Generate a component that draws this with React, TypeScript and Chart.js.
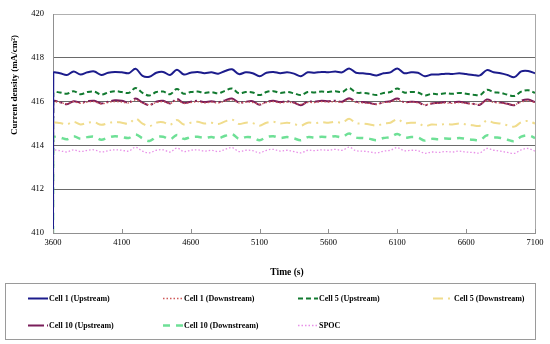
import React, { useEffect, useRef } from "react";
import { Chart, registerables } from "chart.js";

Chart.register(...registerables);

const START_TIME = 3600;
const END_TIME = 7100;
const STEP = 50;
const START_VALUE = 410;

const cell1Up = [
  417.30, 417.30, 417.22, 417.38, 417.24, 417.34, 417.38, 417.22, 417.32, 417.36,
  417.34, 417.30, 417.50, 417.18, 417.14, 417.32, 417.36, 417.22, 417.46, 417.24,
  417.32, 417.36, 417.30, 417.34, 417.28, 417.40, 417.48, 417.26, 417.34, 417.30,
  417.16, 417.32, 417.36, 417.30, 417.34, 417.28, 417.16, 417.34, 417.32, 417.36,
  417.34, 417.38, 417.34, 417.52, 417.32, 417.30, 417.26, 417.20, 417.30, 417.34,
  417.52, 417.30, 417.34, 417.32, 417.16, 417.24, 417.24, 417.28, 417.26, 417.30,
  417.26, 417.22, 417.20, 417.44, 417.34, 417.30, 417.22, 417.12, 417.38, 417.40,
  417.30,
];
const cell1Down = [
  415.95, 415.96, 415.90, 416.00, 415.92, 415.98, 416.00, 415.90, 415.96, 416.00,
  415.98, 415.94, 416.08, 415.94, 415.86, 415.96, 416.00, 415.92, 416.06, 415.92,
  415.96, 416.00, 415.94, 415.98, 415.94, 416.02, 416.08, 415.94, 415.98, 415.96,
  415.88, 415.96, 416.00, 415.94, 415.98, 415.94, 415.88, 415.96, 415.96, 416.00,
  415.98, 416.00, 415.96, 416.10, 415.96, 415.94, 415.92, 415.88, 415.96, 415.98,
  416.08, 415.96, 415.98, 415.94, 415.86, 415.92, 415.92, 415.94, 415.92, 415.96,
  415.92, 415.90, 415.88, 416.04, 415.96, 415.94, 415.90, 415.86, 415.98, 416.04,
  415.96,
];
const cell5Up = [
  416.40, 416.42, 416.36, 416.48, 416.34, 416.44, 416.46, 416.32, 416.42, 416.48,
  416.44, 416.40, 416.62, 416.40, 416.28, 416.44, 416.46, 416.34, 416.58, 416.36,
  416.44, 416.46, 416.40, 416.44, 416.38, 416.50, 416.60, 416.38, 416.44, 416.42,
  416.30, 416.44, 416.48, 416.40, 416.44, 416.38, 416.30, 416.44, 416.42, 416.46,
  416.44, 416.48, 416.44, 416.62, 416.42, 416.40, 416.36, 416.30, 416.40, 416.44,
  416.60, 416.42, 416.44, 416.42, 416.28, 416.36, 416.34, 416.38, 416.36, 416.40,
  416.36, 416.32, 416.30, 416.54, 416.44, 416.40, 416.32, 416.26, 416.46, 416.52,
  416.40,
];
const cell5Down = [
  415.00, 415.02, 414.96, 415.08, 414.96, 415.04, 415.06, 414.94, 415.02, 415.08,
  415.04, 415.00, 415.22, 415.00, 414.88, 415.04, 415.06, 414.94, 415.16, 414.96,
  415.04, 415.08, 415.00, 415.04, 414.98, 415.10, 415.18, 414.98, 415.04, 415.02,
  414.90, 415.04, 415.08, 415.00, 415.04, 414.98, 414.90, 415.04, 415.02, 415.06,
  415.04, 415.08, 415.04, 415.22, 415.02, 415.00, 414.96, 414.90, 415.00, 415.04,
  415.20, 415.02, 415.04, 415.02, 414.88, 414.96, 414.94, 414.98, 414.96, 415.00,
  414.96, 414.92, 414.90, 415.14, 415.04, 415.00, 414.92, 414.86, 415.06, 415.12,
  415.00,
];
const cell10Up = [
  416.00, 415.98, 415.88, 416.02, 415.96, 416.02, 416.04, 415.92, 416.00, 416.06,
  416.04, 415.96, 416.14, 415.96, 415.84, 416.00, 416.04, 415.92, 416.12, 415.94,
  416.00, 416.04, 415.98, 416.02, 415.98, 416.06, 416.14, 415.96, 416.00, 416.02,
  415.86, 416.00, 416.04, 415.98, 416.02, 415.96, 415.84, 416.00, 416.00, 416.04,
  416.02, 416.04, 416.00, 416.16, 416.00, 415.98, 415.94, 415.88, 415.98, 416.02,
  416.14, 415.98, 416.00, 415.98, 415.84, 415.92, 415.94, 415.98, 415.96, 416.00,
  415.94, 415.90, 415.86, 416.10, 416.00, 415.96, 415.90, 415.84, 416.04, 416.10,
  415.98,
];
const cell10Down = [
  414.34, 414.36, 414.28, 414.42, 414.30, 414.38, 414.40, 414.26, 414.36, 414.42,
  414.38, 414.34, 414.50, 414.32, 414.20, 414.38, 414.40, 414.28, 414.48, 414.30,
  414.38, 414.40, 414.34, 414.38, 414.32, 414.44, 414.52, 414.30, 414.38, 414.36,
  414.24, 414.38, 414.42, 414.34, 414.38, 414.32, 414.24, 414.38, 414.36, 414.40,
  414.38, 414.42, 414.38, 414.54, 414.36, 414.34, 414.30, 414.24, 414.34, 414.38,
  414.52, 414.36, 414.38, 414.36, 414.22, 414.30, 414.28, 414.32, 414.30, 414.34,
  414.30, 414.26, 414.24, 414.46, 414.38, 414.34, 414.26, 414.20, 414.40, 414.46,
  414.34,
];
const spoc = [
  413.74, 413.76, 413.70, 413.80, 413.72, 413.78, 413.80, 413.70, 413.76, 413.80,
  413.78, 413.74, 413.92, 413.74, 413.66, 413.78, 413.80, 413.70, 413.88, 413.72,
  413.78, 413.80, 413.74, 413.78, 413.72, 413.82, 413.90, 413.72, 413.78, 413.76,
  413.66, 413.78, 413.82, 413.74, 413.78, 413.72, 413.66, 413.78, 413.76, 413.80,
  413.78, 413.82, 413.78, 413.92, 413.76, 413.74, 413.70, 413.66, 413.74, 413.78,
  413.90, 413.76, 413.78, 413.76, 413.64, 413.70, 413.68, 413.72, 413.70, 413.74,
  413.70, 413.68, 413.66, 413.86, 413.78, 413.74, 413.68, 413.64, 413.80, 413.86,
  413.74,
];

const seriesNames = [
  "Cell 1 (Upstream)",
  "Cell 1 (Downstream)",
  "Cell 5 (Upstream)",
  "Cell 5 (Downstream)",
  "Cell 10 (Upstream)",
  "Cell 10 (Downstream)",
  "SPOC",
];
const seriesValues = [cell1Up, cell1Down, cell5Up, cell5Down, cell10Up, cell10Down, spoc];
const seriesStyles = [
  { color: "#1c1c8c", width: 2, dash: [] as number[] },
  { color: "#d05a5a", width: 1.3, dash: [1.5, 2] },
  { color: "#127a30", width: 2, dash: [5, 3] },
  { color: "#f0dc8c", width: 2, dash: [10, 5, 2, 5] },
  { color: "#7a1e5a", width: 2, dash: [16, 3, 2, 3] },
  { color: "#6ee096", width: 2.5, dash: [7, 6] },
  { color: "#e890e8", width: 1.3, dash: [1.5, 2] },
];

const X_TITLE = "Time (s)";
const Y_TITLE = "Current density (mA/cm²)";
const SERIF = "'Liberation Serif', 'Times New Roman', serif";

function toPoints(values: number[]) {
  const pts = [{ x: START_TIME, y: START_VALUE }];
  values.forEach((v, i) => {
    pts.push({ x: i === 0 ? START_TIME + 2 : START_TIME + STEP * i, y: v });
  });
  return pts;
}

const extrasPlugin = {
  id: "extras",
  afterDraw(chart: any) {
    const { ctx, chartArea, scales } = chart;
    ctx.save();
    // right border
    ctx.strokeStyle = "#a8a8a8";
    ctx.lineWidth = 1;
    ctx.beginPath();
    ctx.moveTo(Math.round(chartArea.right) + 0.5, chartArea.top);
    ctx.lineTo(Math.round(chartArea.right) + 0.5, chartArea.bottom);
    ctx.stroke();
    // inside x ticks
    ctx.strokeStyle = "#909090";
    scales.x.ticks.forEach((t: any) => {
      const x = Math.round(scales.x.getPixelForValue(t.value)) + 0.5;
      ctx.beginPath();
      ctx.moveTo(x, chartArea.bottom);
      ctx.lineTo(x, chartArea.bottom - 4);
      ctx.stroke();
    });
    // axis titles
    ctx.fillStyle = "#000";
    ctx.textAlign = "center";
    ctx.textBaseline = "middle";
    ctx.font = `bold 9.5px ${SERIF}`;
    ctx.fillText(X_TITLE, 287, 273);
    ctx.save();
    ctx.translate(15, 85);
    ctx.rotate(-Math.PI / 2);
    ctx.font = `bold 9px ${SERIF}`;
    ctx.fillText(Y_TITLE, 0, 0);
    ctx.restore();
    // legend box
    ctx.strokeStyle = "#9a9a9a";
    ctx.lineWidth = 1;
    ctx.strokeRect(5.5, 283.5, 530, 56);
    ctx.font = `bold 8px ${SERIF}`;
    ctx.textBaseline = "middle";
    ctx.textAlign = "left";
    chart.data.datasets.forEach((ds: any, i: number) => {
      const col = i % 4;
      const row = Math.floor(i / 4);
      const x0 = 28 + col * 135;
      const y = row === 0 ? 298.5 : 325.5;
      ctx.save();
      ctx.strokeStyle = ds.borderColor;
      ctx.lineWidth = ds.borderWidth;
      ctx.setLineDash(ds.borderDash || []);
      ctx.beginPath();
      ctx.moveTo(x0, y);
      ctx.lineTo(x0 + 20, y);
      ctx.stroke();
      ctx.restore();
      ctx.fillStyle = "#000";
      ctx.fillText(ds.label, x0 + 21, y);
    });
    ctx.restore();
  },
};

export default function App() {
  const ref = useRef<HTMLCanvasElement | null>(null);
  useEffect(() => {
    if (!ref.current) return;
    const datasets = seriesNames.map((name, i) => ({
      label: name,
      data: toPoints(seriesValues[i]),
      borderColor: seriesStyles[i].color,
      backgroundColor: seriesStyles[i].color,
      borderWidth: seriesStyles[i].width,
      borderDash: seriesStyles[i].dash,
      pointRadius: 0,
      tension: 0.35,
      fill: false,
    }));
    const chart = new Chart(ref.current, {
      type: "line",
      data: { datasets },
      options: {
        animation: false,
        responsive: true,
        maintainAspectRatio: false,
        layout: { padding: { left: 0, right: 15, top: 8, bottom: 59 } },
        plugins: { legend: { display: false }, tooltip: { enabled: false } },
        scales: {
          x: {
            type: "linear",
            min: START_TIME,
            max: END_TIME,
            afterFit: (s: any) => {
              s.height = 52;
            },
            ticks: {
              stepSize: 500,
              padding: 5,
              maxRotation: 0,
              color: "#000",
              font: { family: SERIF, size: 8.5 },
              callback: (v: any) => String(v),
            },
            grid: { display: true, drawOnChartArea: false, drawTicks: false },
            border: { display: true, color: "#909090", width: 1 },
          },
          y: {
            min: 410,
            max: 420,
            afterFit: (s: any) => {
              s.width = 53;
            },
            ticks: {
              stepSize: 2,
              padding: 9,
              color: "#000",
              font: { family: SERIF, size: 8.5 },
              callback: (v: any) => String(v),
            },
            grid: {
              drawTicks: false,
              color: (c: any) => (c.tick && c.tick.value === 420 ? "#b0b0b0" : "#6a6a6a"),
              lineWidth: 1,
            },
            border: { display: true, color: "#909090", width: 1 },
          },
        },
      },
      plugins: [extrasPlugin],
    });
    return () => chart.destroy();
  }, []);
  return (
    <div style={{ position: "fixed", left: 0, top: 0, width: 550, height: 344, background: "#fff" }}>
      <canvas ref={ref} />
    </div>
  );
}
